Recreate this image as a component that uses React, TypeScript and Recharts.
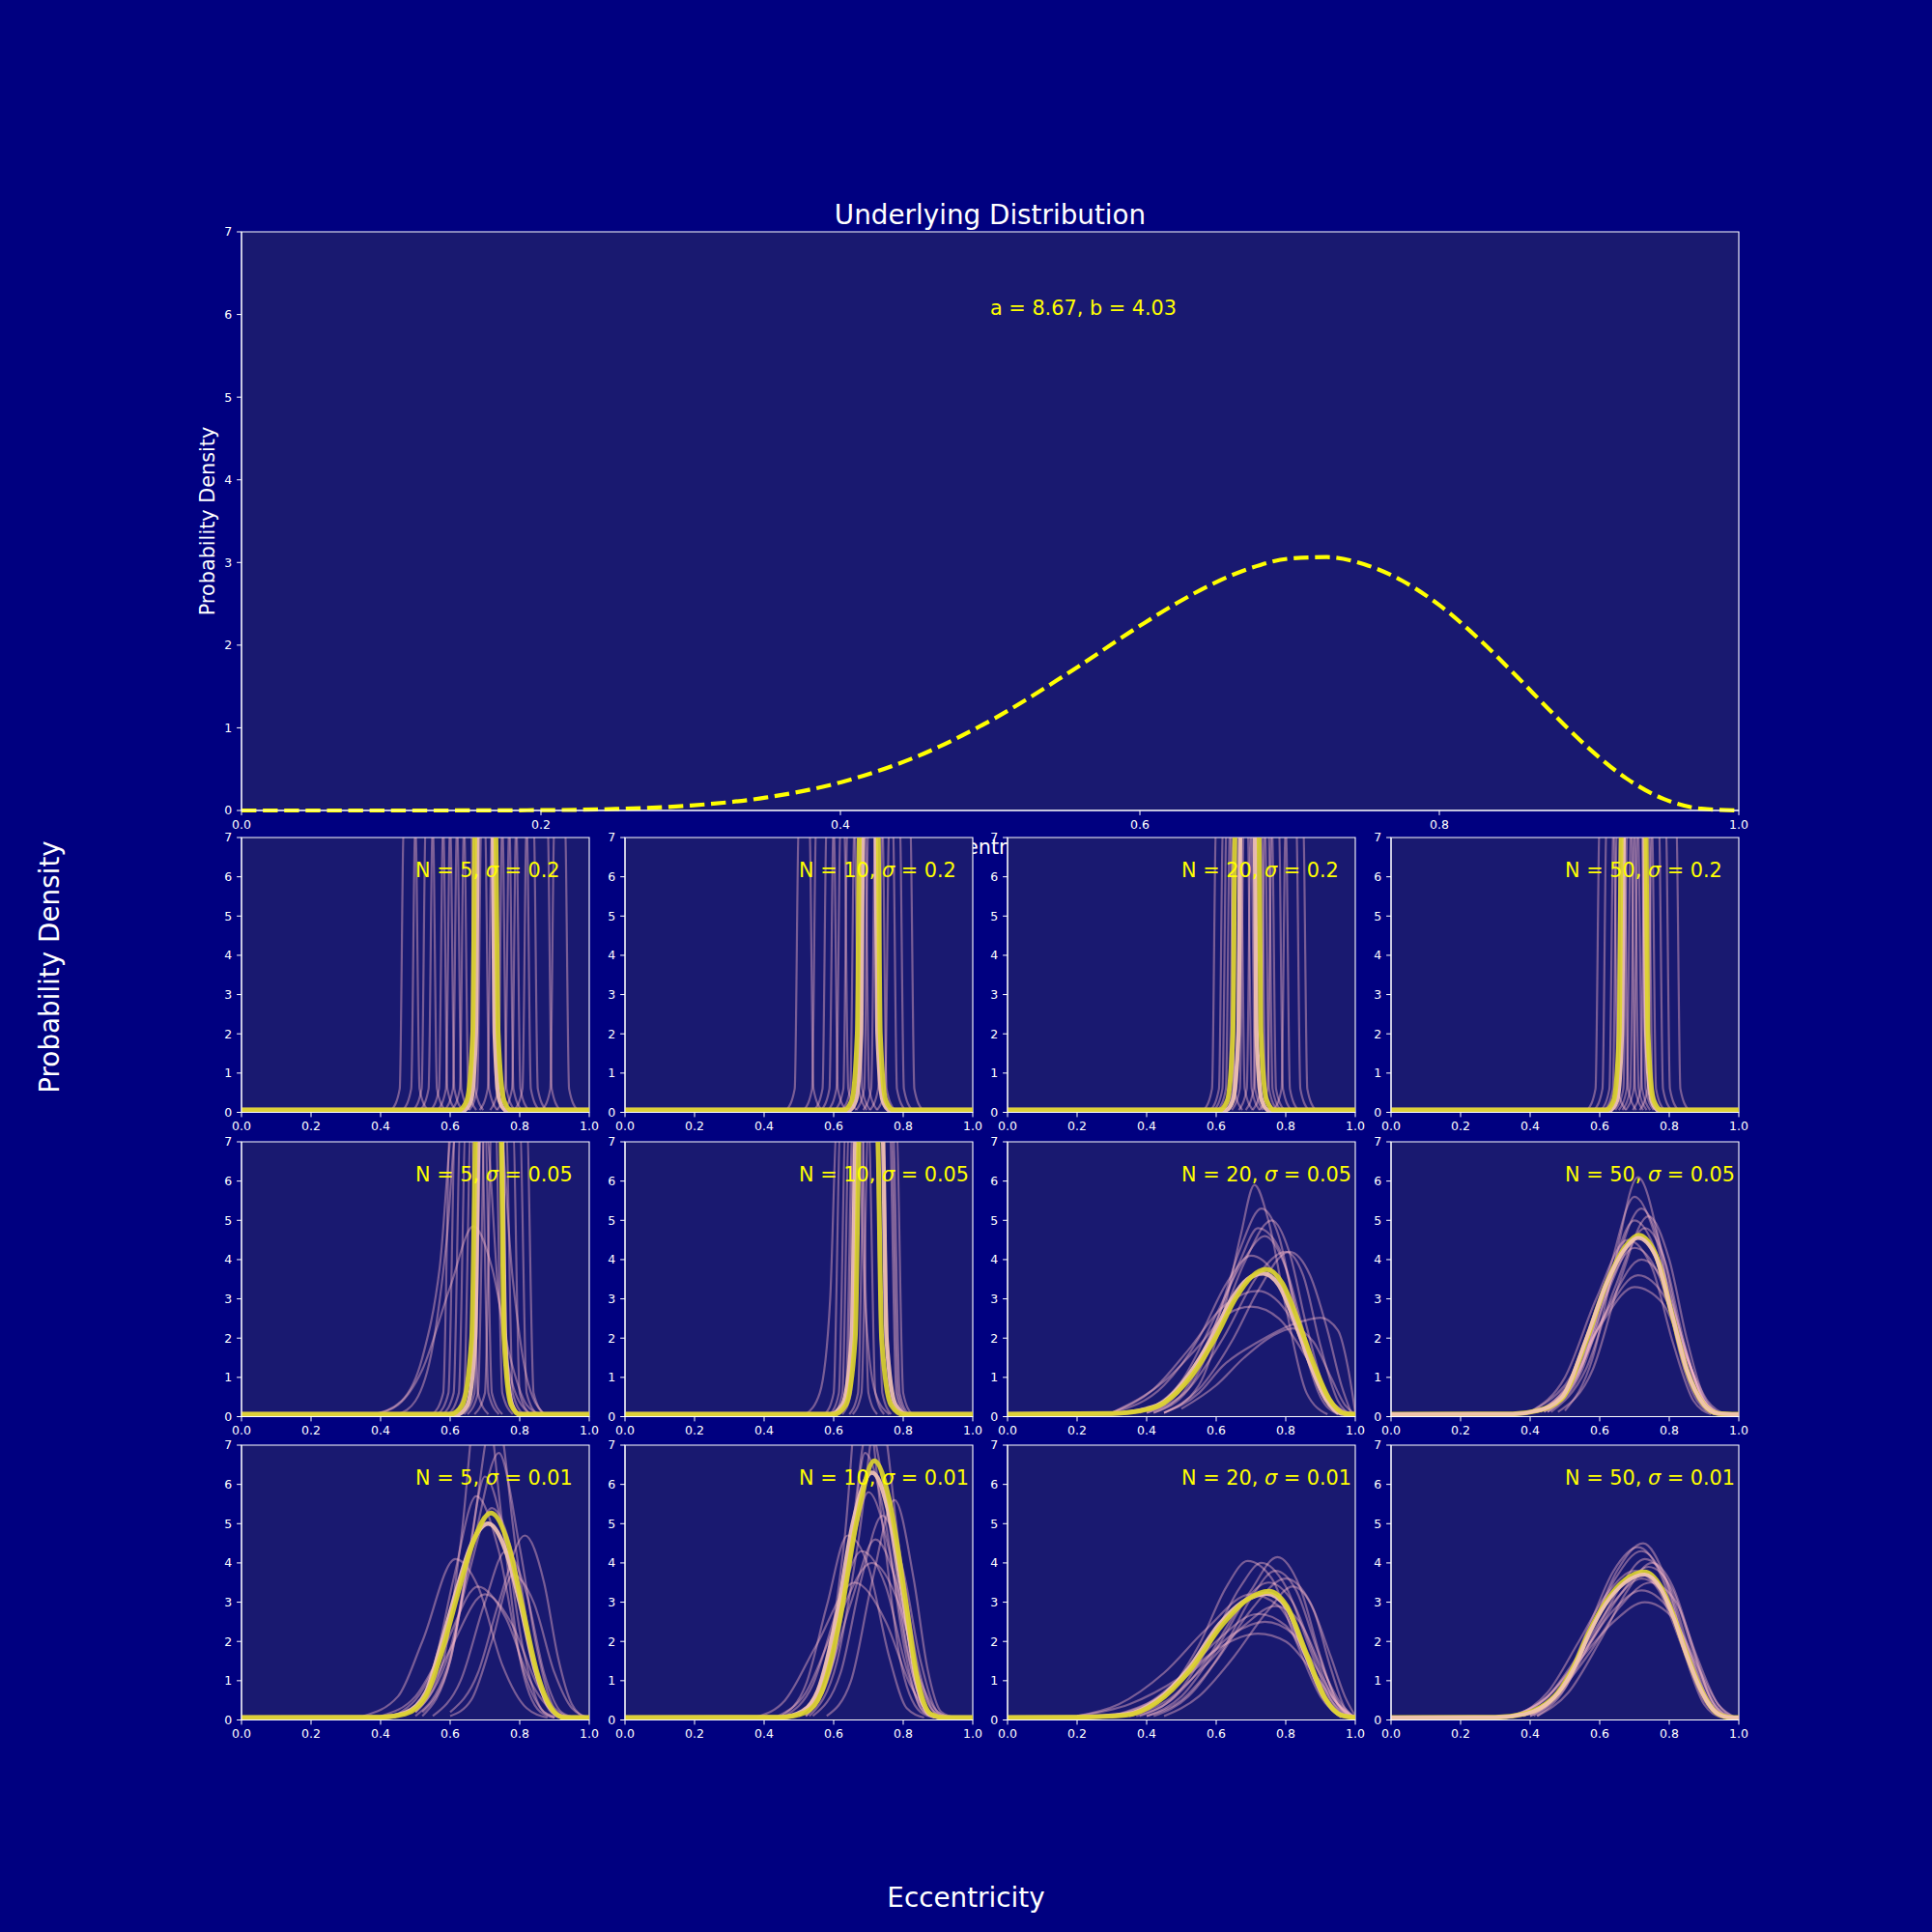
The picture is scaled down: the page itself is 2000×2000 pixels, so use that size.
import React from "react";
import { LineChart, Line, XAxis, YAxis, CartesianGrid, ReferenceArea, ReferenceDot } from "recharts";

if (typeof document !== "undefined") {
  document.body.style.margin = "0";
}

type Curve = [number, number][];

const FONT = "DejaVu Sans";
const FIG_BG = "#000080";
const AX_BG = "#191970";
const WHITE = "#ffffff";
const TXT_YELLOW = "#FFFF00";

// ---------- top panel: underlying distribution ----------
const topX = [0, 0.05, 0.1, 0.15, 0.2, 0.25, 0.3, 0.35, 0.4, 0.45, 0.5, 0.55, 0.6, 0.625, 0.65, 0.675, 0.7, 0.725, 0.75, 0.775, 0.8, 0.825, 0.85, 0.875, 0.9, 0.925, 0.95, 0.975, 1];
const topY = [0, 0, 0, 0.0005, 0.004, 0.018, 0.06, 0.156, 0.34, 0.645, 1.085, 1.637, 2.234, 2.512, 2.754, 2.939, 3.047, 3.065, 2.977, 2.781, 2.484, 2.098, 1.654, 1.189, 0.75, 0.387, 0.139, 0.021, 0];
const xTicks = [0, 0.2, 0.4, 0.6, 0.8, 1.0];
const yTicks = [0, 1, 2, 3, 4, 5, 6, 7];

// ---------- row 1 : sigma = 0.2 ----------
const r1c1Faint: Curve[] = [
  [[0.432, 0.06], [0.455, 0.6], [0.467, 7.5], [0.5, 7.5], [0.512, 0.6], [0.535, 0.06]],
  [[0.465, 0.06], [0.488, 0.6], [0.5, 7.5], [0.55, 7.5], [0.562, 0.6], [0.585, 0.06]],
  [[0.495, 0.06], [0.518, 0.6], [0.53, 7.5], [0.58, 7.5], [0.592, 0.6], [0.615, 0.06]],
  [[0.515, 0.06], [0.538, 0.6], [0.55, 7.5], [0.6, 7.5], [0.612, 0.6], [0.635, 0.06]],
  [[0.545, 0.06], [0.568, 0.6], [0.58, 7.5], [0.62, 7.5], [0.632, 0.6], [0.655, 0.06]],
  [[0.565, 0.06], [0.588, 0.6], [0.6, 7.5], [0.64, 7.5], [0.652, 0.6], [0.675, 0.06]],
  [[0.585, 0.06], [0.608, 0.6], [0.62, 7.5], [0.66, 7.5], [0.672, 0.6], [0.695, 0.06]],
  [[0.605, 0.06], [0.628, 0.6], [0.64, 7.5], [0.7, 7.5], [0.712, 0.6], [0.735, 0.06]],
  [[0.635, 0.06], [0.658, 0.6], [0.67, 7.5], [0.72, 7.5], [0.732, 0.6], [0.755, 0.06]],
  [[0.655, 0.06], [0.678, 0.6], [0.69, 7.5], [0.75, 7.5], [0.762, 0.6], [0.785, 0.06]],
  [[0.685, 0.06], [0.708, 0.6], [0.72, 7.5], [0.77, 7.5], [0.782, 0.6], [0.805, 0.06]],
  [[0.715, 0.06], [0.738, 0.6], [0.75, 7.5], [0.79, 7.5], [0.802, 0.6], [0.825, 0.06]],
  [[0.735, 0.06], [0.758, 0.6], [0.77, 7.5], [0.82, 7.5], [0.832, 0.6], [0.855, 0.06]],
  [[0.755, 0.06], [0.778, 0.6], [0.79, 7.5], [0.84, 7.5], [0.852, 0.6], [0.875, 0.06]],
  [[0.785, 0.06], [0.808, 0.6], [0.82, 7.5], [0.88, 7.5], [0.892, 0.6], [0.915, 0.06]],
  [[0.865, 0.06], [0.888, 0.6], [0.9, 7.5], [0.93, 7.5], [0.942, 0.6], [0.965, 0.06]],
];
const r1c1Yellow: Curve = [[0, 0.06], [0.625, 0.06], [0.648, 0.3], [0.665, 2], [0.672, 7.5], [0.73, 7.5], [0.738, 2], [0.755, 0.3], [0.775, 0.06], [1, 0.06]];
const r1c1Peach: Curve = [[0, 0.06], [0.64, 0.06], [0.66, 0.3], [0.674, 2], [0.68, 7.5], [0.722, 7.5], [0.728, 2], [0.742, 0.3], [0.76, 0.06], [1, 0.06]];

const r1c2Faint: Curve[] = [
  [[0.465, 0.06], [0.488, 0.6], [0.5, 7.5], [0.53, 7.5], [0.542, 0.6], [0.565, 0.06]],
  [[0.515, 0.06], [0.538, 0.6], [0.55, 7.5], [0.6, 7.5], [0.612, 0.6], [0.635, 0.06]],
  [[0.545, 0.06], [0.568, 0.6], [0.58, 7.5], [0.63, 7.5], [0.642, 0.6], [0.665, 0.06]],
  [[0.565, 0.06], [0.588, 0.6], [0.6, 7.5], [0.66, 7.5], [0.672, 0.6], [0.695, 0.06]],
  [[0.585, 0.06], [0.608, 0.6], [0.62, 7.5], [0.67, 7.5], [0.682, 0.6], [0.705, 0.06]],
  [[0.605, 0.06], [0.628, 0.6], [0.64, 7.5], [0.69, 7.5], [0.702, 0.6], [0.725, 0.06]],
  [[0.625, 0.06], [0.648, 0.6], [0.66, 7.5], [0.72, 7.5], [0.732, 0.6], [0.755, 0.06]],
  [[0.665, 0.06], [0.688, 0.6], [0.7, 7.5], [0.74, 7.5], [0.752, 0.6], [0.775, 0.06]],
  [[0.685, 0.06], [0.708, 0.6], [0.72, 7.5], [0.77, 7.5], [0.782, 0.6], [0.805, 0.06]],
  [[0.705, 0.06], [0.728, 0.6], [0.74, 7.5], [0.79, 7.5], [0.802, 0.6], [0.825, 0.06]],
  [[0.725, 0.06], [0.748, 0.6], [0.76, 7.5], [0.82, 7.5], [0.832, 0.6], [0.855, 0.06]],
];
const r1c2Yellow: Curve = [[0, 0.06], [0.63, 0.06], [0.652, 0.3], [0.668, 2], [0.675, 7.5], [0.727, 7.5], [0.734, 2], [0.75, 0.3], [0.772, 0.06], [1, 0.06]];
const r1c2Peach: Curve = [[0, 0.06], [0.645, 0.06], [0.664, 0.3], [0.679, 2], [0.685, 7.5], [0.72, 7.5], [0.726, 2], [0.741, 0.3], [0.76, 0.06], [1, 0.06]];

const r1c3Faint: Curve[] = [
  [[0.565, 0.06], [0.588, 0.6], [0.6, 7.5], [0.64, 7.5], [0.652, 0.6], [0.675, 0.06]],
  [[0.585, 0.06], [0.608, 0.6], [0.62, 7.5], [0.67, 7.5], [0.682, 0.6], [0.705, 0.06]],
  [[0.595, 0.06], [0.618, 0.6], [0.63, 7.5], [0.69, 7.5], [0.702, 0.6], [0.725, 0.06]],
  [[0.615, 0.06], [0.638, 0.6], [0.65, 7.5], [0.71, 7.5], [0.722, 0.6], [0.745, 0.06]],
  [[0.625, 0.06], [0.648, 0.6], [0.66, 7.5], [0.73, 7.5], [0.742, 0.6], [0.765, 0.06]],
  [[0.645, 0.06], [0.668, 0.6], [0.68, 7.5], [0.74, 7.5], [0.752, 0.6], [0.775, 0.06]],
  [[0.665, 0.06], [0.688, 0.6], [0.7, 7.5], [0.76, 7.5], [0.772, 0.6], [0.795, 0.06]],
  [[0.685, 0.06], [0.708, 0.6], [0.72, 7.5], [0.78, 7.5], [0.792, 0.6], [0.815, 0.06]],
  [[0.705, 0.06], [0.728, 0.6], [0.74, 7.5], [0.8, 7.5], [0.812, 0.6], [0.835, 0.06]],
  [[0.725, 0.06], [0.748, 0.6], [0.76, 7.5], [0.83, 7.5], [0.842, 0.6], [0.865, 0.06]],
  [[0.605, 0.06], [0.628, 0.6], [0.64, 7.5], [0.7, 7.5], [0.712, 0.6], [0.735, 0.06]],
  [[0.635, 0.06], [0.658, 0.6], [0.67, 7.5], [0.75, 7.5], [0.762, 0.6], [0.785, 0.06]],
  [[0.765, 0.06], [0.788, 0.6], [0.8, 7.5], [0.85, 7.5], [0.862, 0.6], [0.885, 0.06]],
];
const r1c3Yellow: Curve = [[0, 0.06], [0.61, 0.06], [0.632, 0.3], [0.648, 2], [0.655, 7.5], [0.722, 7.5], [0.729, 2], [0.745, 0.3], [0.767, 0.06], [1, 0.06]];
const r1c3Peach: Curve = [[0, 0.06], [0.628, 0.06], [0.648, 0.3], [0.664, 2], [0.67, 7.5], [0.71, 7.5], [0.716, 2], [0.731, 0.3], [0.75, 0.06], [1, 0.06]];

const r1c4Faint: Curve[] = [
  [[0.565, 0.06], [0.588, 0.6], [0.6, 7.5], [0.64, 7.5], [0.652, 0.6], [0.675, 0.06]],
  [[0.585, 0.06], [0.608, 0.6], [0.62, 7.5], [0.67, 7.5], [0.682, 0.6], [0.705, 0.06]],
  [[0.605, 0.06], [0.628, 0.6], [0.64, 7.5], [0.69, 7.5], [0.702, 0.6], [0.725, 0.06]],
  [[0.615, 0.06], [0.638, 0.6], [0.65, 7.5], [0.71, 7.5], [0.722, 0.6], [0.745, 0.06]],
  [[0.635, 0.06], [0.658, 0.6], [0.67, 7.5], [0.72, 7.5], [0.732, 0.6], [0.755, 0.06]],
  [[0.645, 0.06], [0.668, 0.6], [0.68, 7.5], [0.74, 7.5], [0.752, 0.6], [0.775, 0.06]],
  [[0.655, 0.06], [0.678, 0.6], [0.69, 7.5], [0.75, 7.5], [0.762, 0.6], [0.785, 0.06]],
  [[0.675, 0.06], [0.698, 0.6], [0.71, 7.5], [0.77, 7.5], [0.782, 0.6], [0.805, 0.06]],
  [[0.695, 0.06], [0.718, 0.6], [0.73, 7.5], [0.79, 7.5], [0.802, 0.6], [0.825, 0.06]],
  [[0.715, 0.06], [0.738, 0.6], [0.75, 7.5], [0.82, 7.5], [0.832, 0.6], [0.855, 0.06]],
  [[0.625, 0.06], [0.648, 0.6], [0.66, 7.5], [0.7, 7.5], [0.712, 0.6], [0.735, 0.06]],
  [[0.665, 0.06], [0.688, 0.6], [0.7, 7.5], [0.73, 7.5], [0.742, 0.6], [0.765, 0.06]],
];
const r1c4Yellow: Curve = [[0, 0.06], [0.618, 0.06], [0.64, 0.3], [0.656, 2], [0.663, 7.5], [0.732, 7.5], [0.739, 2], [0.755, 0.3], [0.777, 0.06], [1, 0.06]];
const r1c4Peach: Curve = [[0, 0.06], [0.63, 0.06], [0.65, 0.3], [0.664, 2], [0.67, 7.5], [0.728, 7.5], [0.734, 2], [0.749, 0.3], [0.768, 0.06], [1, 0.06]];

// ---------- row 2 : sigma = 0.05 ----------
const r2c1Faint: Curve[] = [
  [[0.55, 0.06], [0.58, 0.6], [0.6, 7.5], [0.66, 7.5], [0.68, 0.6], [0.71, 0.06]],
  [[0.565, 0.06], [0.595, 0.6], [0.615, 7.5], [0.69, 7.5], [0.71, 0.6], [0.74, 0.06]],
  [[0.58, 0.06], [0.61, 0.6], [0.63, 7.5], [0.7, 7.5], [0.72, 0.6], [0.75, 0.06]],
  [[0.595, 0.06], [0.625, 0.6], [0.645, 7.5], [0.73, 7.5], [0.75, 0.6], [0.78, 0.06]],
  [[0.61, 0.06], [0.64, 0.6], [0.66, 7.5], [0.76, 7.5], [0.78, 0.6], [0.81, 0.06]],
  [[0.64, 0.06], [0.67, 0.6], [0.69, 7.5], [0.78, 7.5], [0.8, 0.6], [0.83, 0.06]],
  [[0.65, 0.06], [0.68, 0.6], [0.7, 7.5], [0.8, 7.5], [0.82, 0.6], [0.85, 0.06]],
  [[0.67, 0.06], [0.7, 0.6], [0.72, 7.5], [0.82, 7.5], [0.84, 0.6], [0.87, 0.06]],
  [[0.38, 0.06], [0.45, 0.3], [0.52, 1.2], [0.6, 3.3], [0.667, 4.85], [0.72, 3.8], [0.77, 1.6], [0.82, 0.3], [0.86, 0.06]],
  [[0.38, 0.06], [0.46, 0.4], [0.52, 1.5], [0.57, 3.8], [0.61, 7.5], [0.7, 7.5], [0.74, 3], [0.78, 0.8], [0.83, 0.06]],
  [[0.45, 0.06], [0.5, 0.4], [0.55, 1.8], [0.59, 4.5], [0.62, 7.5], [0.74, 7.5], [0.78, 3.5], [0.82, 1], [0.87, 0.06]],
];
const r2c1Yellow: Curve = [[0, 0.06], [0.6, 0.06], [0.635, 0.3], [0.662, 2], [0.675, 7.5], [0.745, 7.5], [0.755, 2], [0.775, 0.3], [0.8, 0.06], [1, 0.06]];
const r2c1Peach: Curve = [[0, 0.06], [0.62, 0.06], [0.65, 0.3], [0.672, 2], [0.683, 7.5], [0.748, 7.5], [0.758, 2], [0.778, 0.3], [0.8, 0.06], [1, 0.06]];

const r2c2Faint: Curve[] = [
  [[0.575, 0.06], [0.6, 0.6], [0.62, 7.5], [0.68, 7.5], [0.7, 0.6], [0.725, 0.06]],
  [[0.59, 0.06], [0.615, 0.6], [0.635, 7.5], [0.7, 7.5], [0.72, 0.6], [0.745, 0.06]],
  [[0.6, 0.06], [0.625, 0.6], [0.645, 7.5], [0.72, 7.5], [0.74, 0.6], [0.765, 0.06]],
  [[0.61, 0.06], [0.635, 0.6], [0.655, 7.5], [0.74, 7.5], [0.76, 0.6], [0.785, 0.06]],
  [[0.625, 0.06], [0.65, 0.6], [0.67, 7.5], [0.76, 7.5], [0.78, 0.6], [0.805, 0.06]],
  [[0.645, 0.06], [0.67, 0.6], [0.69, 7.5], [0.77, 7.5], [0.79, 0.6], [0.815, 0.06]],
  [[0.655, 0.06], [0.68, 0.6], [0.7, 7.5], [0.78, 7.5], [0.8, 0.6], [0.825, 0.06]],
  [[0.615, 0.06], [0.64, 0.6], [0.66, 7.5], [0.765, 7.5], [0.785, 0.6], [0.81, 0.06]],
  [[0.52, 0.06], [0.56, 0.6], [0.59, 3], [0.61, 7.5], [0.67, 7.5], [0.69, 3], [0.72, 0.6], [0.76, 0.06]],
];
const r2c2Yellow: Curve = [[0, 0.06], [0.6, 0.06], [0.635, 0.3], [0.662, 2], [0.675, 7.5], [0.725, 7.5], [0.738, 2], [0.765, 0.3], [0.8, 0.06], [1, 0.06]];
const r2c2Peach: Curve = [[0, 0.06], [0.59, 0.06], [0.625, 0.3], [0.652, 2], [0.665, 7.5], [0.74, 7.5], [0.752, 2], [0.778, 0.3], [0.81, 0.06], [1, 0.06]];

const r2c3Faint: Curve[] = [
  [[0.45, 0.1], [0.55, 0.8], [0.62, 2.6], [0.67, 4.6], [0.71, 5.9], [0.75, 5.0], [0.8, 2.8], [0.86, 0.6], [0.92, 0.06]],
  [[0.42, 0.1], [0.52, 0.8], [0.6, 2.4], [0.67, 4.3], [0.73, 5.3], [0.78, 4.6], [0.83, 2.6], [0.9, 0.5], [0.95, 0.06]],
  [[0.42, 0.1], [0.52, 0.7], [0.6, 2.1], [0.68, 3.9], [0.76, 5.0], [0.81, 4.2], [0.86, 2.3], [0.92, 0.5], [0.97, 0.06]],
  [[0.38, 0.1], [0.5, 0.9], [0.6, 2.6], [0.68, 4.0], [0.74, 4.6], [0.8, 3.8], [0.86, 1.9], [0.93, 0.3], [0.98, 0.06]],
  [[0.4, 0.1], [0.52, 0.7], [0.62, 2.0], [0.72, 3.6], [0.8, 4.2], [0.85, 3.6], [0.9, 1.8], [0.95, 0.4], [0.99, 0.06]],
  [[0.3, 0.1], [0.45, 0.8], [0.55, 2.0], [0.63, 3.4], [0.7, 4.1], [0.77, 3.6], [0.84, 2.0], [0.91, 0.5], [0.97, 0.06]],
  [[0.3, 0.1], [0.42, 0.7], [0.52, 1.7], [0.62, 2.8], [0.72, 3.2], [0.8, 2.7], [0.87, 1.5], [0.94, 0.3], [0.99, 0.06]],
  [[0.3, 0.1], [0.45, 0.9], [0.55, 1.8], [0.63, 2.6], [0.7, 2.8], [0.78, 2.5], [0.86, 1.5], [0.93, 0.4], [0.99, 0.06]],
  [[0.45, 0.1], [0.55, 0.6], [0.62, 1.3], [0.72, 1.9], [0.82, 2.35], [0.9, 2.52], [0.95, 2.2], [0.98, 1.2], [1, 0.1]],
  [[0.45, 0.1], [0.55, 0.7], [0.65, 2.0], [0.72, 3.2], [0.81, 4.2], [0.87, 3.6], [0.92, 2.2], [0.96, 0.8], [0.99, 0.06]],
  [[0.5, 0.2], [0.6, 0.8], [0.68, 1.5], [0.76, 2.05], [0.82, 2.25], [0.88, 1.9], [0.93, 1.0], [0.97, 0.3], [1, 0.06]],
  [[0.4, 0.1], [0.5, 0.7], [0.6, 2.4], [0.67, 4.0], [0.72, 4.8], [0.78, 4.3], [0.84, 2.4], [0.9, 0.7], [0.95, 0.06]],
];
const r2c3Yellow: Curve = [[0, 0.06], [0.3, 0.08], [0.4, 0.18], [0.45, 0.35], [0.53, 1.05], [0.6, 2.05], [0.655, 3.0], [0.7, 3.55], [0.745, 3.75], [0.79, 3.4], [0.835, 2.45], [0.88, 1.35], [0.925, 0.45], [0.97, 0.08], [1, 0.06]];
const r2c3Peach: Curve = [[0, 0.06], [0.3, 0.08], [0.4, 0.2], [0.45, 0.38], [0.52, 1.05], [0.59, 2.05], [0.645, 3.0], [0.69, 3.5], [0.735, 3.65], [0.78, 3.35], [0.825, 2.45], [0.87, 1.35], [0.915, 0.45], [0.96, 0.08], [1, 0.06]];

const r2c4Faint: Curve[] = [
  [[0.5, 0.15], [0.58, 1.5], [0.64, 3.8], [0.71, 6.1], [0.77, 4.5], [0.82, 2.0], [0.88, 0.4], [0.93, 0.06]],
  [[0.45, 0.12], [0.55, 1.3], [0.63, 3.8], [0.7, 5.6], [0.76, 4.6], [0.82, 2.2], [0.88, 0.5], [0.93, 0.06]],
  [[0.45, 0.12], [0.55, 1.2], [0.63, 3.4], [0.72, 5.3], [0.78, 4.2], [0.83, 2.2], [0.89, 0.5], [0.94, 0.06]],
  [[0.44, 0.12], [0.54, 1.2], [0.62, 3.3], [0.7, 5.0], [0.77, 4.0], [0.83, 1.9], [0.89, 0.4], [0.94, 0.06]],
  [[0.46, 0.12], [0.56, 1.2], [0.64, 3.2], [0.73, 4.8], [0.79, 3.9], [0.84, 2.0], [0.9, 0.4], [0.95, 0.06]],
  [[0.42, 0.12], [0.52, 1.0], [0.6, 2.8], [0.7, 4.3], [0.77, 3.6], [0.83, 1.8], [0.89, 0.4], [0.94, 0.06]],
  [[0.43, 0.12], [0.53, 1.0], [0.62, 2.7], [0.72, 4.0], [0.79, 3.3], [0.85, 1.6], [0.9, 0.4], [0.95, 0.06]],
  [[0.42, 0.12], [0.52, 0.9], [0.61, 2.5], [0.71, 3.6], [0.79, 3.0], [0.85, 1.5], [0.91, 0.3], [0.96, 0.06]],
  [[0.4, 0.12], [0.5, 0.8], [0.6, 2.3], [0.7, 3.3], [0.78, 2.9], [0.85, 1.5], [0.91, 0.4], [0.96, 0.06]],
  [[0.4, 0.12], [0.5, 1.0], [0.59, 3.0], [0.68, 4.5], [0.75, 3.8], [0.81, 1.9], [0.87, 0.4], [0.92, 0.06]],
  [[0.48, 0.12], [0.58, 1.2], [0.66, 3.5], [0.74, 5.1], [0.8, 4.0], [0.85, 2.0], [0.9, 0.5], [0.95, 0.06]],
  [[0.44, 0.12], [0.54, 1.1], [0.62, 3.1], [0.715, 4.6], [0.78, 3.8], [0.84, 1.9], [0.9, 0.4], [0.95, 0.06]],
];
const r2c4Yellow: Curve = [[0, 0.06], [0.35, 0.07], [0.42, 0.15], [0.49, 0.45], [0.56, 1.9], [0.62, 3.4], [0.675, 4.35], [0.712, 4.62], [0.76, 4.15], [0.805, 2.7], [0.85, 1.2], [0.9, 0.3], [0.94, 0.08], [1, 0.06]];
const r2c4Peach: Curve = [[0, 0.06], [0.35, 0.07], [0.42, 0.15], [0.49, 0.48], [0.56, 1.95], [0.62, 3.4], [0.675, 4.3], [0.71, 4.55], [0.76, 4.1], [0.805, 2.7], [0.85, 1.2], [0.9, 0.3], [0.94, 0.08], [1, 0.06]];

// ---------- row 3 : sigma = 0.01 ----------
const r3c1Faint: Curve[] = [
  [[0.5, 0.2], [0.58, 1.5], [0.63, 4.5], [0.69, 9], [0.75, 5], [0.8, 1.6], [0.86, 0.2], [0.9, 0.06]],
  [[0.52, 0.2], [0.6, 1.5], [0.66, 4.5], [0.73, 8], [0.79, 4.3], [0.84, 1.5], [0.89, 0.2], [0.93, 0.06]],
  [[0.5, 0.2], [0.6, 1.8], [0.67, 4.6], [0.74, 6.8], [0.8, 4.4], [0.85, 1.8], [0.9, 0.3], [0.95, 0.06]],
  [[0.45, 0.15], [0.55, 1.3], [0.61, 3.6], [0.675, 5.7], [0.74, 4.3], [0.8, 1.6], [0.86, 0.3], [0.9, 0.06]],
  [[0.6, 0.2], [0.68, 1.2], [0.74, 3.0], [0.815, 4.7], [0.87, 3.5], [0.91, 1.6], [0.95, 0.4], [0.99, 0.06]],
  [[0.35, 0.1], [0.45, 0.6], [0.52, 2.0], [0.615, 4.1], [0.68, 3.4], [0.75, 1.4], [0.82, 0.3], [0.88, 0.06]],
  [[0.4, 0.1], [0.5, 0.6], [0.58, 1.8], [0.68, 3.4], [0.76, 2.6], [0.83, 1.0], [0.9, 0.2], [0.95, 0.06]],
  [[0.45, 0.1], [0.53, 0.6], [0.6, 1.8], [0.7, 3.2], [0.78, 2.4], [0.85, 0.9], [0.91, 0.15], [0.95, 0.06]],
  [[0.6, 0.1], [0.66, 0.5], [0.72, 2.0], [0.78, 3.7], [0.84, 3.0], [0.9, 1.2], [0.95, 0.3], [1, 0.06]],
  [[0.55, 0.1], [0.63, 1.0], [0.7, 3.0], [0.76, 4.3], [0.82, 3.2], [0.87, 1.2], [0.92, 0.2], [0.96, 0.06]],
  [[0.52, 0.1], [0.6, 1.5], [0.65, 4.0], [0.7, 6.2], [0.76, 4.5], [0.81, 1.8], [0.87, 0.2], [0.92, 0.06]],
  [[0.5, 0.1], [0.59, 1.3], [0.65, 3.6], [0.72, 5.4], [0.78, 4.2], [0.83, 1.9], [0.89, 0.3], [0.93, 0.06]],
];
const r3c1Yellow: Curve = [[0, 0.06], [0.4, 0.07], [0.47, 0.15], [0.53, 0.6], [0.575, 1.7], [0.62, 3.15], [0.665, 4.5], [0.717, 5.27], [0.768, 4.45], [0.805, 3.0], [0.85, 1.2], [0.9, 0.2], [0.93, 0.06], [1, 0.06]];
const r3c1Peach: Curve = [[0, 0.06], [0.4, 0.07], [0.47, 0.18], [0.53, 0.7], [0.57, 1.8], [0.615, 3.2], [0.66, 4.45], [0.71, 5.0], [0.76, 4.3], [0.8, 3.0], [0.845, 1.25], [0.895, 0.22], [0.93, 0.06], [1, 0.06]];

const r3c2Faint: Curve[] = [
  [[0.5, 0.1], [0.58, 1.5], [0.63, 4.5], [0.68, 9], [0.74, 5], [0.79, 1.6], [0.85, 0.2], [0.89, 0.06]],
  [[0.53, 0.1], [0.61, 1.5], [0.67, 4.5], [0.73, 8], [0.79, 4.3], [0.84, 1.5], [0.89, 0.2], [0.93, 0.06]],
  [[0.58, 0.1], [0.65, 1.0], [0.71, 3.5], [0.775, 5.6], [0.83, 3.6], [0.87, 1.3], [0.91, 0.2], [0.95, 0.06]],
  [[0.45, 0.1], [0.52, 0.9], [0.58, 2.9], [0.64, 4.7], [0.7, 3.9], [0.76, 1.6], [0.81, 0.3], [0.86, 0.06]],
  [[0.5, 0.1], [0.58, 1.0], [0.65, 3.0], [0.72, 4.6], [0.78, 3.5], [0.83, 1.5], [0.88, 0.3], [0.92, 0.06]],
  [[0.46, 0.1], [0.54, 0.9], [0.61, 2.8], [0.68, 4.3], [0.75, 3.4], [0.81, 1.3], [0.86, 0.2], [0.9, 0.06]],
  [[0.5, 0.1], [0.58, 1.3], [0.64, 3.8], [0.7, 5.8], [0.76, 4.3], [0.81, 1.8], [0.86, 0.3], [0.9, 0.06]],
  [[0.44, 0.1], [0.52, 0.7], [0.6, 2.3], [0.71, 4.0], [0.79, 2.9], [0.85, 1.0], [0.9, 0.2], [0.94, 0.06]],
  [[0.52, 0.1], [0.6, 1.5], [0.65, 4.3], [0.69, 6.8], [0.75, 5.0], [0.8, 2.0], [0.85, 0.3], [0.89, 0.06]],
  [[0.38, 0.08], [0.46, 0.5], [0.55, 1.9], [0.66, 3.5], [0.75, 2.5], [0.82, 0.9], [0.88, 0.15], [0.92, 0.06]],
  [[0.54, 0.1], [0.62, 1.2], [0.68, 3.6], [0.74, 5.2], [0.8, 3.8], [0.85, 1.5], [0.9, 0.2], [0.94, 0.06]],
  [[0.52, 0.1], [0.6, 1.6], [0.65, 4.6], [0.7, 7.5], [0.76, 5], [0.81, 1.9], [0.86, 0.3], [0.9, 0.06]],
];
const r3c2Yellow: Curve = [[0, 0.06], [0.45, 0.07], [0.52, 0.2], [0.565, 0.7], [0.62, 2.65], [0.665, 5.0], [0.717, 6.6], [0.76, 5.6], [0.805, 3.15], [0.842, 1.0], [0.88, 0.15], [0.92, 0.06], [1, 0.06]];
const r3c2Peach: Curve = [[0, 0.06], [0.45, 0.07], [0.51, 0.22], [0.555, 0.75], [0.61, 2.7], [0.655, 5.0], [0.71, 6.3], [0.755, 5.4], [0.8, 3.1], [0.838, 1.0], [0.875, 0.15], [0.915, 0.06], [1, 0.06]];

const r3c3Faint: Curve[] = [
  [[0.35, 0.1], [0.45, 0.6], [0.55, 1.9], [0.63, 3.4], [0.69, 4.05], [0.76, 3.6], [0.83, 2.0], [0.9, 0.6], [0.96, 0.06]],
  [[0.4, 0.1], [0.5, 0.6], [0.6, 1.8], [0.7, 3.3], [0.776, 4.15], [0.84, 3.4], [0.9, 1.6], [0.95, 0.4], [0.99, 0.06]],
  [[0.38, 0.1], [0.48, 0.6], [0.58, 1.9], [0.67, 3.4], [0.73, 4.0], [0.8, 3.4], [0.87, 1.8], [0.93, 0.5], [0.98, 0.06]],
  [[0.4, 0.1], [0.5, 0.5], [0.6, 1.5], [0.7, 2.8], [0.8, 3.6], [0.87, 3.0], [0.93, 1.6], [0.97, 0.6], [1, 0.1]],
  [[0.2, 0.1], [0.35, 0.4], [0.5, 1.1], [0.62, 1.9], [0.72, 2.2], [0.8, 2.0], [0.88, 1.2], [0.95, 0.4], [1, 0.06]],
  [[0.3, 0.1], [0.42, 0.5], [0.54, 1.3], [0.65, 2.2], [0.74, 2.5], [0.82, 2.2], [0.89, 1.3], [0.95, 0.4], [1, 0.06]],
  [[0.35, 0.1], [0.46, 0.5], [0.57, 1.4], [0.68, 2.4], [0.77, 2.9], [0.84, 2.5], [0.9, 1.4], [0.96, 0.4], [1, 0.06]],
  [[0.37, 0.1], [0.47, 0.5], [0.57, 1.5], [0.67, 2.9], [0.75, 3.5], [0.82, 3.0], [0.88, 1.7], [0.94, 0.5], [0.99, 0.06]],
  [[0.2, 0.1], [0.32, 0.4], [0.45, 1.2], [0.57, 2.3], [0.7, 3.2], [0.78, 2.9], [0.86, 1.6], [0.93, 0.4], [0.98, 0.06]],
  [[0.45, 0.1], [0.55, 0.6], [0.65, 1.6], [0.75, 2.8], [0.82, 3.4], [0.88, 2.8], [0.93, 1.3], [0.97, 0.3], [1, 0.06]],
  [[0.3, 0.1], [0.4, 0.4], [0.5, 1.1], [0.6, 2.0], [0.72, 2.7], [0.8, 2.4], [0.87, 1.4], [0.94, 0.4], [0.99, 0.06]],
  [[0.42, 0.1], [0.52, 0.6], [0.62, 1.8], [0.7, 3.1], [0.77, 3.8], [0.83, 3.3], [0.89, 1.8], [0.94, 0.6], [0.99, 0.06]],
];
const r3c3Yellow: Curve = [[0, 0.06], [0.2, 0.07], [0.34, 0.12], [0.43, 0.45], [0.525, 1.27], [0.617, 2.42], [0.69, 3.07], [0.752, 3.28], [0.803, 2.9], [0.86, 1.68], [0.915, 0.53], [0.96, 0.12], [1, 0.06]];
const r3c3Peach: Curve = [[0, 0.06], [0.2, 0.07], [0.34, 0.14], [0.43, 0.5], [0.52, 1.3], [0.61, 2.45], [0.685, 3.05], [0.745, 3.22], [0.8, 2.9], [0.855, 1.72], [0.91, 0.58], [0.955, 0.14], [1, 0.06]];

const r3c4Faint: Curve[] = [
  [[0.42, 0.1], [0.5, 0.8], [0.58, 2.4], [0.65, 3.8], [0.725, 4.5], [0.79, 3.6], [0.85, 1.8], [0.91, 0.4], [0.96, 0.06]],
  [[0.4, 0.1], [0.48, 0.7], [0.57, 2.2], [0.645, 3.6], [0.72, 4.3], [0.79, 3.5], [0.85, 1.7], [0.91, 0.4], [0.96, 0.06]],
  [[0.4, 0.1], [0.49, 0.7], [0.58, 2.1], [0.66, 3.4], [0.73, 4.1], [0.8, 3.4], [0.86, 1.7], [0.92, 0.4], [0.97, 0.06]],
  [[0.38, 0.1], [0.47, 0.6], [0.57, 1.9], [0.66, 3.2], [0.74, 3.9], [0.81, 3.3], [0.87, 1.7], [0.93, 0.4], [0.98, 0.06]],
  [[0.36, 0.1], [0.45, 0.6], [0.55, 1.8], [0.64, 3.0], [0.72, 3.6], [0.8, 3.0], [0.86, 1.6], [0.92, 0.4], [0.97, 0.06]],
  [[0.35, 0.1], [0.45, 0.6], [0.55, 1.7], [0.64, 2.8], [0.72, 3.3], [0.8, 2.8], [0.87, 1.5], [0.93, 0.4], [0.98, 0.06]],
  [[0.34, 0.1], [0.44, 0.5], [0.54, 1.5], [0.64, 2.5], [0.73, 3.0], [0.81, 2.6], [0.88, 1.4], [0.94, 0.4], [0.99, 0.06]],
  [[0.36, 0.1], [0.45, 0.7], [0.54, 2.0], [0.62, 3.2], [0.7, 3.8], [0.77, 3.3], [0.84, 1.8], [0.9, 0.5], [0.96, 0.06]],
  [[0.42, 0.1], [0.51, 0.7], [0.6, 2.0], [0.68, 3.3], [0.75, 4.0], [0.81, 3.4], [0.87, 1.8], [0.92, 0.5], [0.97, 0.06]],
  [[0.37, 0.1], [0.47, 0.6], [0.57, 1.7], [0.66, 2.9], [0.745, 3.5], [0.82, 3.0], [0.88, 1.6], [0.94, 0.4], [0.99, 0.06]],
  [[0.41, 0.1], [0.49, 0.8], [0.57, 2.4], [0.64, 3.8], [0.71, 4.4], [0.78, 3.6], [0.84, 1.8], [0.9, 0.4], [0.95, 0.06]],
];
const r3c4Yellow: Curve = [[0, 0.06], [0.3, 0.07], [0.385, 0.16], [0.43, 0.32], [0.48, 0.7], [0.525, 1.35], [0.57, 2.25], [0.617, 3.0], [0.673, 3.57], [0.729, 3.77], [0.775, 3.4], [0.812, 2.66], [0.85, 1.68], [0.896, 0.69], [0.933, 0.2], [0.97, 0.07], [1, 0.06]];
const r3c4Peach: Curve = [[0, 0.06], [0.3, 0.07], [0.385, 0.15], [0.43, 0.3], [0.48, 0.68], [0.525, 1.3], [0.57, 2.2], [0.617, 2.95], [0.673, 3.5], [0.729, 3.7], [0.775, 3.35], [0.812, 2.62], [0.85, 1.65], [0.896, 0.67], [0.933, 0.2], [0.97, 0.07], [1, 0.06]];

// panel grid
const sampleSizes = [5, 10, 20, 50];
const sigmaLabels = ["0.2", "0.05", "0.01"];
const faintSets = [
  [r1c1Faint, r1c2Faint, r1c3Faint, r1c4Faint],
  [r2c1Faint, r2c2Faint, r2c3Faint, r2c4Faint],
  [r3c1Faint, r3c2Faint, r3c3Faint, r3c4Faint],
];
const yellowSets = [
  [r1c1Yellow, r1c2Yellow, r1c3Yellow, r1c4Yellow],
  [r2c1Yellow, r2c2Yellow, r2c3Yellow, r2c4Yellow],
  [r3c1Yellow, r3c2Yellow, r3c3Yellow, r3c4Yellow],
];
const peachSets = [
  [r1c1Peach, r1c2Peach, r1c3Peach, r1c4Peach],
  [r2c1Peach, r2c2Peach, r2c3Peach, r2c4Peach],
  [r3c1Peach, r3c2Peach, r3c3Peach, r3c4Peach],
];
const peachOnTop = [
  [false, false, false, false],
  [false, false, false, true],
  [false, false, false, true],
];

// layout
const COL_LEFT = [250, 646.7, 1043.4, 1440.1];
const ROW_TOP = [867, 1181.5, 1496];
const PW = 360;
const PH = 284.5;

const toRows = (c: Curve) => c.map(([x, y]) => ({ x, y }));
const fmt1 = (v: number) => v.toFixed(1);

const tickStyle = { fill: WHITE, fontSize: 12.5, fontFamily: FONT };

function Panel({ row, col }: { row: number; col: number }) {
  const ML = 50, MT = 15, MR = 18, MB = 30;
  const faint = faintSets[row][col];
  const yellow = yellowSets[row][col];
  const peach = peachSets[row][col];
  const pTop = peachOnTop[row][col];
  const yellowLine = (
    <Line key="yel" data={toRows(yellow)} dataKey="y" type="monotone" stroke="#DCD22E" strokeOpacity={0.92} strokeWidth={5} dot={false} activeDot={false} isAnimationActive={false} />
  );
  const peachLine = (
    <Line key="pch" data={toRows(peach)} dataKey="y" type="monotone" stroke="#F2C2B4" strokeOpacity={0.92} strokeWidth={pTop ? 4 : 4.5} dot={false} activeDot={false} isAnimationActive={false} />
  );
  const n = sampleSizes[col];
  const s = sigmaLabels[row];
  return (
    <div style={{ position: "absolute", left: COL_LEFT[col] - ML, top: ROW_TOP[row] - MT }}>
      <LineChart width={PW + ML + MR} height={PH + MT + MB} margin={{ top: MT, right: MR, left: 0, bottom: 0 }}>
        <CartesianGrid fill={AX_BG} fillOpacity={1} horizontal={false} vertical={false} stroke="none" />
        <XAxis type="number" dataKey="x" domain={[0, 1]} ticks={xTicks} tickFormatter={fmt1} interval={0} allowDataOverflow height={MB}
          tick={tickStyle} tickLine={{ stroke: WHITE, strokeWidth: 1 }} axisLine={{ stroke: WHITE }} tickSize={4.9} tickMargin={5} />
        <YAxis type="number" domain={[0, 7]} ticks={yTicks} interval={0} allowDataOverflow width={ML}
          tick={tickStyle} tickLine={{ stroke: WHITE, strokeWidth: 1 }} axisLine={{ stroke: WHITE }} tickSize={4.9} tickMargin={5} />
        {faint.map((c, i) => (
          <Line key={"f" + i} data={toRows(c)} dataKey="y" type="monotone" stroke="#FFBCCB" strokeOpacity={0.42} strokeWidth={2.2} dot={false} activeDot={false} isAnimationActive={false} />
        ))}
        {pTop ? [yellowLine, peachLine] : [peachLine, yellowLine]}
        <ReferenceArea x1={0} x2={1} y1={0} y2={7} fill="none" fillOpacity={0} stroke={WHITE} strokeWidth={1.1} />
        <ReferenceDot x={0.5} y={6} r={0} shape={(p: any) => (
          <text x={p.cx} y={p.cy} fill={TXT_YELLOW} fontSize={20.8} fontFamily={FONT}>
            {`N = ${n}, `}<tspan fontStyle="italic">σ</tspan>{` = ${s}`}
          </text>
        )} />
      </LineChart>
    </div>
  );
}

function TopChart() {
  const ML = 70, MT = 20, MR = 30, MB = 40;
  const W = 1550, H = 599;
  const rows = topX.map((x, i) => ({ x, y: topY[i] }));
  return (
    <div style={{ position: "absolute", left: 250 - ML, top: 240 - MT }}>
      <LineChart width={W + ML + MR} height={H + MT + MB} margin={{ top: MT, right: MR, left: 0, bottom: 0 }} data={rows}>
        <CartesianGrid fill={AX_BG} fillOpacity={1} horizontal={false} vertical={false} stroke="none" />
        <XAxis type="number" dataKey="x" domain={[0, 1]} ticks={xTicks} tickFormatter={fmt1} interval={0} height={MB}
          tick={tickStyle} tickLine={{ stroke: WHITE }} axisLine={{ stroke: WHITE }} tickSize={4.9} tickMargin={5} />
        <YAxis type="number" domain={[0, 7]} ticks={yTicks} interval={0} width={ML}
          tick={tickStyle} tickLine={{ stroke: WHITE }} axisLine={{ stroke: WHITE }} tickSize={4.9} tickMargin={5} />
        <Line dataKey="y" type="monotone" stroke="#FFFF00" strokeWidth={4.2} strokeDasharray="15.4 6.7" dot={false} activeDot={false} isAnimationActive={false} />
        <ReferenceArea x1={0} x2={1} y1={0} y2={7} fill="none" fillOpacity={0} stroke={WHITE} strokeWidth={1.1} />
        <ReferenceDot x={0.5} y={6} r={0} shape={(p: any) => (
          <text x={p.cx} y={p.cy} fill={TXT_YELLOW} fontSize={20.8} fontFamily={FONT}>a = 8.67, b = 4.03</text>
        )} />
      </LineChart>
    </div>
  );
}

export default function App() {
  const cells: { row: number; col: number }[] = [];
  for (let r = 0; r < 3; r++) for (let c = 0; c < 4; c++) cells.push({ row: r, col: c });
  return (
    <div style={{ position: "relative", width: 2000, height: 2000, background: FIG_BG, overflow: "hidden", fontFamily: FONT }}>
      <svg width={2000} height={2000} style={{ position: "absolute", left: 0, top: 0 }}>
        <text x={1025} y={231.7} fill={WHITE} fontSize={27.8} fontFamily={FONT} textAnchor="middle">Underlying Distribution</text>
        <text x={221.5} y={539.5} fill={WHITE} fontSize={20.8} fontFamily={FONT} textAnchor="middle" transform="rotate(-90 221.5 539.5)">Probability Density</text>
        <text x={1025} y={883.5} fill={WHITE} fontSize={20.8} fontFamily={FONT} textAnchor="middle">Eccentricity</text>
        <text x={61} y={1001} fill={WHITE} fontSize={27.8} fontFamily={FONT} textAnchor="middle" transform="rotate(-90 61 1001)">Probability Density</text>
        <text x={1000} y={1974} fill={WHITE} fontSize={27.8} fontFamily={FONT} textAnchor="middle">Eccentricity</text>
      </svg>
      <TopChart />
      {cells.map(({ row, col }) => (
        <Panel key={row + "-" + col} row={row} col={col} />
      ))}
    </div>
  );
}
